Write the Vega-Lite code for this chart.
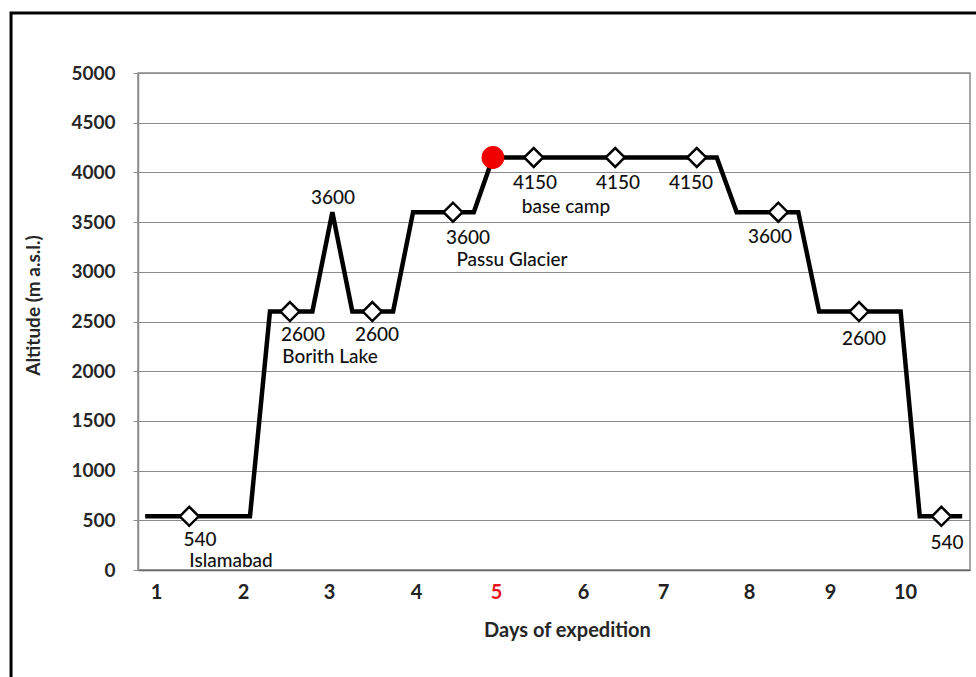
{
  "$schema": "https://vega.github.io/schema/vega-lite/v6.json",
  "width": 832,
  "height": 497,
  "autosize": "none",
  "padding": {"left": 138, "top": 73, "right": 6, "bottom": 107},
  "background": "white",
  "config": {
    "view": {"stroke": "#8a8a8a", "strokeWidth": 1.5},
    "font": "Lato"
  },
  "datasets": {
    "route": [
      {"day": 0.87, "alt": 540},
      {"day": 2.13, "alt": 540},
      {"day": 2.37, "alt": 2600},
      {"day": 2.88, "alt": 2600},
      {"day": 3.12, "alt": 3600},
      {"day": 3.36, "alt": 2600},
      {"day": 3.85, "alt": 2600},
      {"day": 4.09, "alt": 3600},
      {"day": 4.82, "alt": 3600},
      {"day": 5.05, "alt": 4150},
      {"day": 7.74, "alt": 4150},
      {"day": 7.98, "alt": 3600},
      {"day": 8.72, "alt": 3600},
      {"day": 8.97, "alt": 2600},
      {"day": 9.95, "alt": 2600},
      {"day": 10.18, "alt": 540},
      {"day": 10.69, "alt": 540}
    ],
    "markers": [
      {"day": 1.40, "alt": 540},
      {"day": 2.61, "alt": 2600},
      {"day": 3.60, "alt": 2600},
      {"day": 4.57, "alt": 3600},
      {"day": 5.54, "alt": 4150},
      {"day": 6.52, "alt": 4150},
      {"day": 7.50, "alt": 4150},
      {"day": 8.48, "alt": 3600},
      {"day": 9.45, "alt": 2600},
      {"day": 10.44, "alt": 540}
    ],
    "highlight": [
      {"day": 5.05, "alt": 4150}
    ],
    "labels": [
      {"x": 1.529, "y": 305, "text": "540"},
      {"x": 1.902, "y": 95, "text": "Islamabad"},
      {"x": 2.767, "y": 2365, "text": "2600"},
      {"x": 3.092, "y": 2140, "text": "Borith Lake"},
      {"x": 3.128, "y": 3742, "text": "3600"},
      {"x": 3.657, "y": 2365, "text": "2600"},
      {"x": 4.750, "y": 3345, "text": "3600"},
      {"x": 5.279, "y": 3120, "text": "Passu Glacier"},
      {"x": 5.556, "y": 3893, "text": "4150"},
      {"x": 5.928, "y": 3652, "text": "base camp"},
      {"x": 6.553, "y": 3893, "text": "4150"},
      {"x": 7.431, "y": 3893, "text": "4150"},
      {"x": 8.380, "y": 3350, "text": "3600"},
      {"x": 9.510, "y": 2324, "text": "2600"},
      {"x": 10.508, "y": 272, "text": "540"}
    ]
  },
  "layer": [
    {
      "data": {"name": "route"},
      "mark": {"type": "line", "color": "black", "strokeWidth": 4.5, "strokeJoin": "miter"},
      "encoding": {
        "x": {
          "field": "day",
          "type": "quantitative",
          "scale": {"domain": [0.784, 10.784], "nice": false, "zero": false},
          "axis": {
            "title": "Days of expedition",
            "values": [1, 2.046, 3.08, 4.125, 5.087, 6.133, 7.094, 8.128, 9.101, 10.003],
            "labelExpr": "'' + round(datum.value)",
            "grid": false,
            "ticks": false,
            "domainColor": "#666666",
            "domainWidth": 1.5,
            "labelFont": "Lato",
            "labelFontSize": 20,
            "labelFontWeight": "bold",
            "labelColor": {"condition": {"test": "round(datum.value) == 5", "value": "#e8141c"}, "value": "#222222"},
            "labelPadding": 12,
            "labelFlush": false,
            "labelOverlap": false,
            "titleFont": "Lato",
            "titleFontSize": 20,
            "titleFontWeight": "bold",
            "titleColor": "#262626",
            "titleX": 429,
            "titleY": 60,
            "titleAlign": "center",
            "titleBaseline": "middle"
          }
        },
        "y": {
          "field": "alt",
          "type": "quantitative",
          "scale": {"domain": [0, 5000], "nice": false},
          "axis": {
            "title": "Altitude (m a.s.l.)",
            "values": [0, 500, 1000, 1500, 2000, 2500, 3000, 3500, 4000, 4500, 5000],
            "format": "d",
            "grid": true,
            "gridColor": "#8c8c8c",
            "gridWidth": 1.2,
            "gridOpacity": 1,
            "domainColor": "#8c8c8c",
            "domainWidth": 1.5,
            "tickColor": "#8c8c8c",
            "tickSize": 5,
            "labelPadding": 18,
            "labelFont": "Lato",
            "labelFontSize": 19,
            "labelFontWeight": "bold",
            "labelColor": "#262626",
            "titleFont": "Lato",
            "titleFontSize": 19,
            "titleFontWeight": "bold",
            "titleColor": "#262626",
            "titleX": -105,
            "titleY": 232,
            "titleAngle": -90,
            "titleAlign": "center",
            "titleBaseline": "middle"
          }
        }
      }
    },
    {
      "data": {"name": "markers"},
      "mark": {"type": "point", "shape": "diamond", "filled": true, "fill": "white", "stroke": "black", "strokeWidth": 2.5, "size": 360, "opacity": 1},
      "encoding": {
        "x": {"field": "day", "type": "quantitative"},
        "y": {"field": "alt", "type": "quantitative"}
      }
    },
    {
      "data": {"name": "highlight"},
      "mark": {"type": "point", "shape": "circle", "filled": true, "fill": "#f00000", "strokeWidth": 0, "size": 520, "opacity": 1},
      "encoding": {
        "x": {"field": "day", "type": "quantitative"},
        "y": {"field": "alt", "type": "quantitative"}
      }
    },
    {
      "data": {"name": "labels"},
      "mark": {"type": "text", "font": "Lato", "fontSize": 19, "fontWeight": 500, "color": "#111111", "align": "center", "baseline": "middle"},
      "encoding": {
        "x": {"field": "x", "type": "quantitative"},
        "y": {"field": "y", "type": "quantitative"},
        "text": {"field": "text", "type": "nominal"}
      }
    },
    {
      "data": {"values": [{}]},
      "mark": {"type": "rect", "fill": null, "stroke": "black", "strokeWidth": 3, "clip": false},
      "encoding": {
        "x": {"datum": -0.742, "type": "quantitative"},
        "x2": {"datum": 12.5},
        "y": {"datum": 5604, "type": "quantitative"},
        "y2": {"datum": -3000}
      }
    }
  ]
}
